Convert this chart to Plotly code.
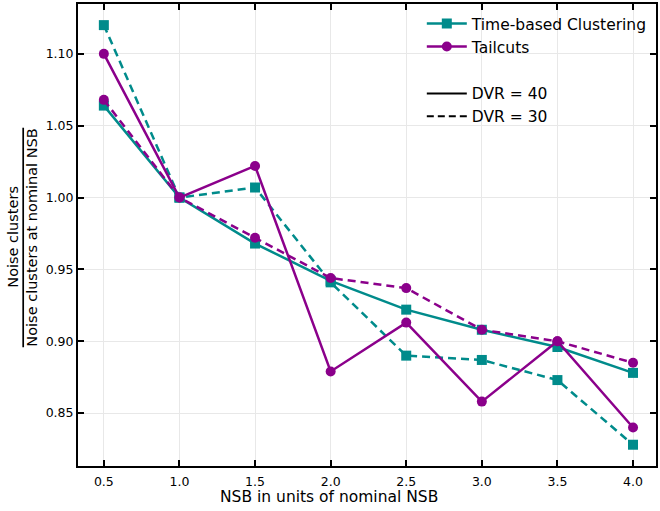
import plotly.graph_objects as go

nsb = [0.5, 1.0, 1.5, 2.0, 2.5, 3.0, 3.5, 4.0]
tbc_dvr40 = [1.064, 1.000, 0.968, 0.942, 0.922, 0.908, 0.896, 0.878]
tbc_dvr30 = [1.120, 1.000, 1.007, 0.941, 0.890, 0.887, 0.873, 0.828]
tail_dvr40 = [1.100, 1.000, 1.022, 0.879, 0.913, 0.858, 0.900, 0.840]
tail_dvr30 = [1.068, 1.000, 0.972, 0.944, 0.937, 0.908, 0.900, 0.885]

x_ticks = [0.5, 1.0, 1.5, 2.0, 2.5, 3.0, 3.5, 4.0]
y_ticks = [0.85, 0.90, 0.95, 1.00, 1.05, 1.10]

TEAL = "#008b8b"
PURPLE = "#8b008b"
DASH = "8px,5px"
FONT = "DejaVu Sans"
MS = 10

fig = go.Figure()

fig.add_trace(go.Scatter(x=nsb, y=tbc_dvr40, mode="lines+markers", name="Time-based Clustering",
                         line=dict(color=TEAL, width=2.5), marker=dict(symbol="square", size=MS, color=TEAL),
                         legend="legend"))
fig.add_trace(go.Scatter(x=nsb, y=tbc_dvr30, mode="lines+markers", showlegend=False,
                         line=dict(color=TEAL, width=2.5, dash=DASH), marker=dict(symbol="square", size=MS, color=TEAL)))
fig.add_trace(go.Scatter(x=nsb, y=tail_dvr40, mode="lines+markers", name="Tailcuts",
                         line=dict(color=PURPLE, width=2.5), marker=dict(symbol="circle", size=MS, color=PURPLE),
                         legend="legend2"))
fig.add_trace(go.Scatter(x=nsb, y=tail_dvr30, mode="lines+markers", showlegend=False,
                         line=dict(color=PURPLE, width=2.5, dash=DASH), marker=dict(symbol="circle", size=MS, color=PURPLE)))

fig.add_trace(go.Scatter(x=[None], y=[None], mode="lines", name="DVR = 40",
                         line=dict(color="black", width=2), legend="legend3"))
fig.add_trace(go.Scatter(x=[None], y=[None], mode="lines", name="DVR = 30",
                         line=dict(color="black", width=2, dash="7px,4px"), legend="legend4"))

ML, MR, MT, MB = 78, 2, 3, 45
W, H = 660, 511
pw, ph = W - ML - MR, H - MT - MB

def px_x(p):
    return (p - ML) / pw

def px_y(p):
    return 1 - (p - MT) / ph

axis_common = dict(showline=True, linecolor="black", linewidth=2, mirror="ticks",
                   ticks="inside", ticklen=6, tickwidth=2, tickcolor="black",
                   showgrid=True, gridcolor="#e8e8e8", gridwidth=1, zeroline=False,
                   tickfont=dict(family=FONT, size=12.5, color="black"))

fig.update_xaxes(range=[0.329, 4.152], tickvals=x_ticks, ticktext=[f"{v:.1f}" for v in x_ticks],
                 ticklabelstandoff=3, **axis_common)
fig.update_yaxes(range=[0.8132, 1.1347], tickvals=y_ticks, ticktext=[f"{v:.2f}" for v in y_ticks],
                 **axis_common)

fig.add_annotation(text="NSB in units of nominal NSB", xref="paper", yref="paper", x=px_x(330), y=px_y(497),
                   xanchor="center", yanchor="middle", showarrow=False,
                   font=dict(family=FONT, size=15.5, color="black"))
fig.add_annotation(text="Noise clusters", xref="paper", yref="paper", x=px_x(13), y=px_y(236),
                   xanchor="center", yanchor="middle",
                   textangle=-90, showarrow=False, font=dict(family=FONT, size=14.5, color="black"))
fig.add_annotation(text="Noise clusters at nominal NSB", xref="paper", yref="paper", x=px_x(32), y=px_y(237),
                   xanchor="center", yanchor="middle",
                   textangle=-90, showarrow=False, font=dict(family=FONT, size=14.5, color="black"))
fig.add_shape(type="line", xref="paper", yref="paper", x0=px_x(23), x1=px_x(23), y0=px_y(127), y1=px_y(347),
              line=dict(color="black", width=1.7))

legend_common = dict(font=dict(family=FONT, size=15.5, color="black"), bgcolor="rgba(0,0,0,0)",
                     xanchor="left", yanchor="middle", itemwidth=40)
fig.update_layout(
    width=W, height=H,
    margin=dict(l=ML, r=MR, t=MT, b=MB),
    plot_bgcolor="white", paper_bgcolor="white",
    font=dict(family=FONT, color="black"),
    legend=dict(x=px_x(423), y=px_y(23), **legend_common),
    legend2=dict(x=px_x(423), y=px_y(46), **legend_common),
    legend3=dict(x=px_x(423), y=px_y(93), **legend_common),
    legend4=dict(x=px_x(423), y=px_y(116), **legend_common),
)

fig.write_html("out.html")
